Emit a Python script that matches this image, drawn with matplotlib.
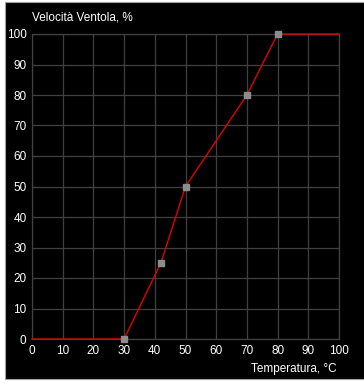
import matplotlib.pyplot as plt
from matplotlib.patches import Rectangle

# fan curve: temperature (C) -> fan speed (%)
temp = [0, 30, 42, 50, 70, 80, 100]
speed = [0, 0, 25, 50, 80, 100, 100]
point_temp = [30, 42, 50, 70, 80]
point_speed = [0, 25, 50, 80, 100]
xticks = list(range(0, 101, 10))
yticks = list(range(0, 101, 10))

plt.rcParams['font.family'] = ['Liberation Sans', 'DejaVu Sans']

fig = plt.figure(figsize=(3.64, 3.84), dpi=100, facecolor='white')
# dark panel with thin frame, like the original window
fig.patches.append(Rectangle((5 / 364, 5 / 384), 1, 1 - 7 / 384, transform=fig.transFigure,
                             facecolor='black', edgecolor='#a0a0a0', linewidth=0.8, zorder=-1))

ax = fig.add_axes([32 / 364, 1 - 339 / 384, 307 / 364, 305 / 384])
ax.set_zorder(1)
ax.set_facecolor('black')
ax.set_xlim(0, 100)
ax.set_ylim(0, 100)
ax.set_xticks(xticks)
ax.set_yticks(yticks)
ax.grid(True, color='#404040', linewidth=0.9)
for s in ax.spines.values():
    s.set_color('#404040')
    s.set_linewidth(0.9)
ax.tick_params(colors='white', length=0, labelsize=8.5, pad=4)
for lbl in ax.get_xticklabels() + ax.get_yticklabels():
    lbl.set_color('white')

ax.plot(temp, speed, color='#e00000', linewidth=1.0, zorder=3, clip_on=False)
ax.plot(point_temp, point_speed, linestyle='none', marker='s', markersize=5,
        markerfacecolor='#8c8c8c', markeredgecolor='#8c8c8c', zorder=4, clip_on=False)

fig.text(32 / 364, 1 - 17 / 384, 'Velocità Ventola, %', color='white', fontsize=8.5,
         ha='left', va='center')
fig.text(337 / 364, 1 - 369 / 384, 'Temperatura, °C', color='white', fontsize=8.5,
         ha='right', va='center')

fig.savefig('out.png', dpi=100, facecolor=fig.get_facecolor())
